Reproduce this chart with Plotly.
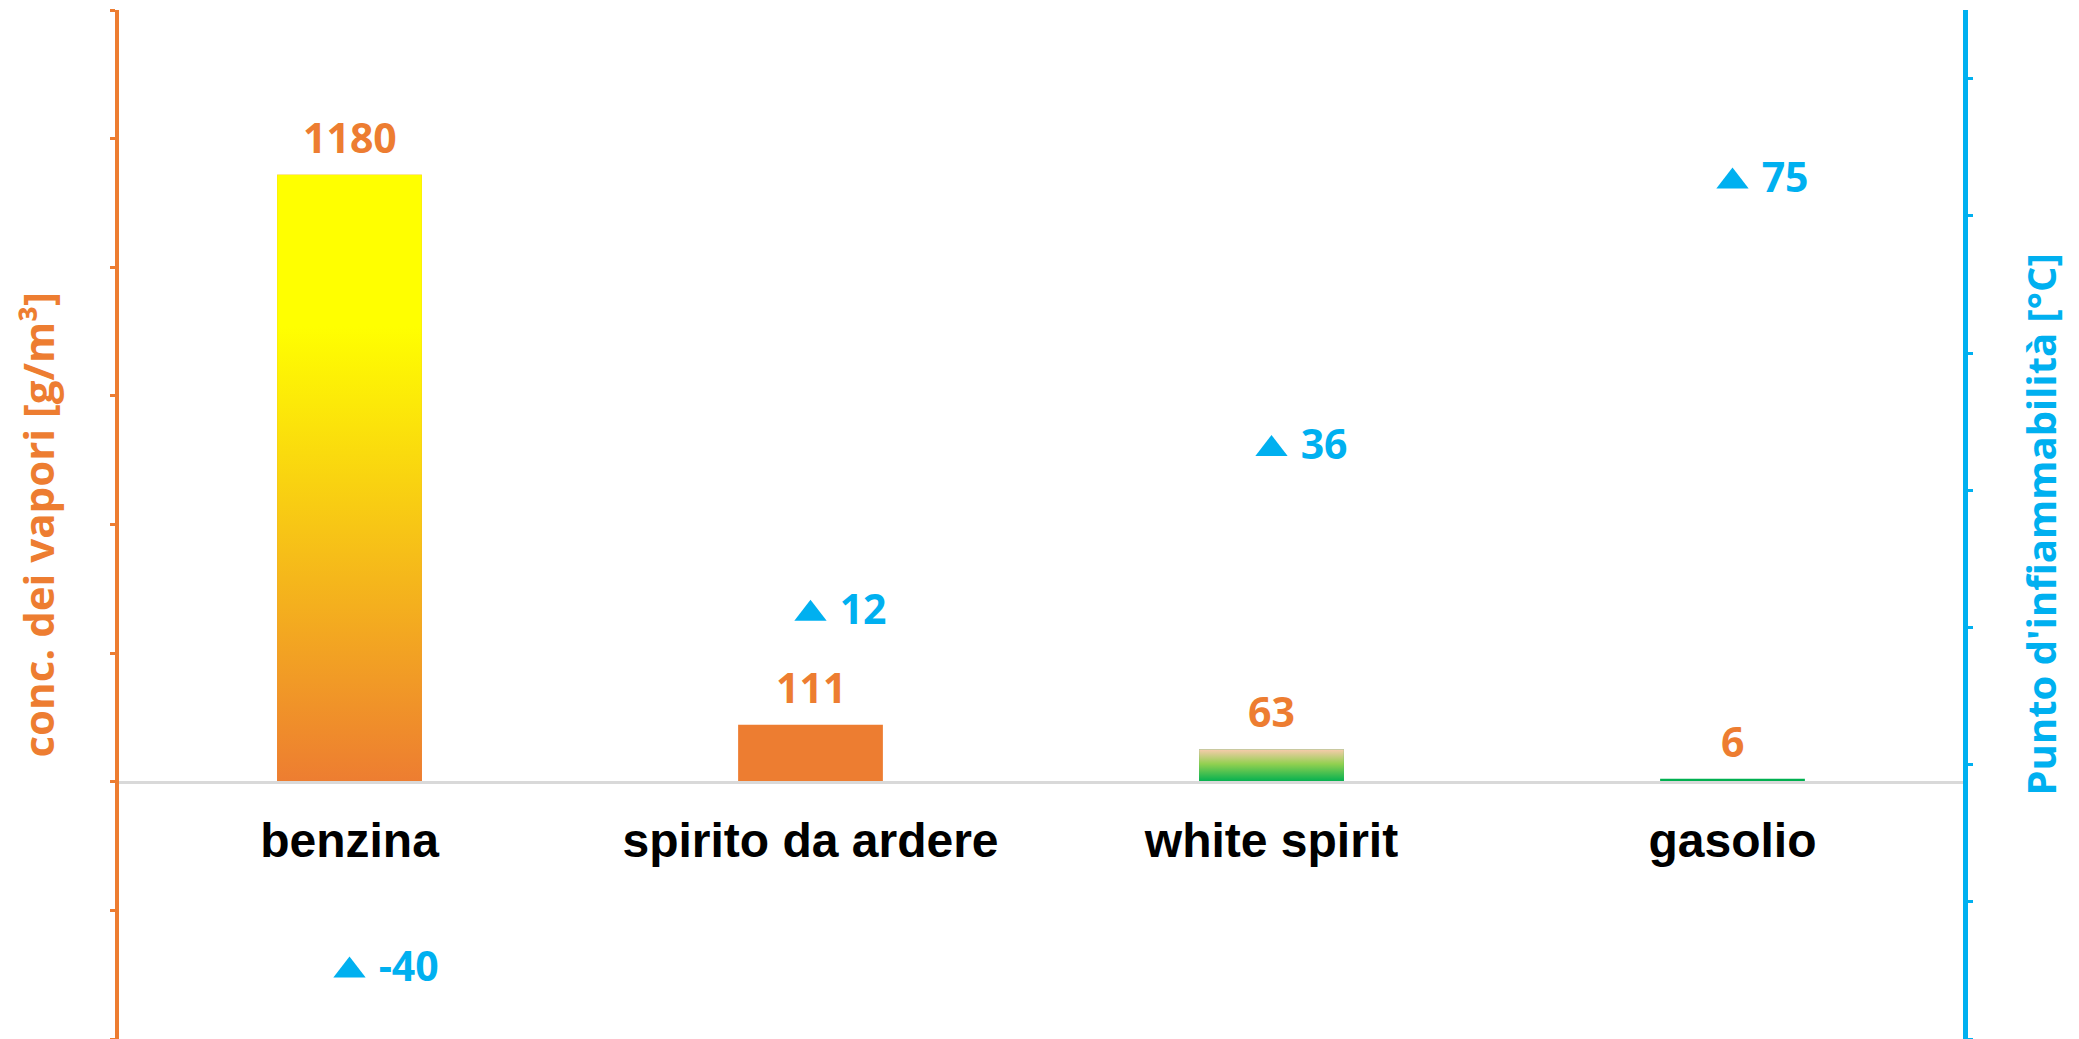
import plotly.graph_objects as go

categories = ["benzina", "spirito da ardere", "white spirit", "gasolio"]
vapour_conc = [1180, 111, 63, 6]          # g/m3 (left axis, bars)
flash_point = [-40, 12, 36, 75]           # °C (right axis, triangles)
bar_base_colors = ["#ED7D31", "#ED7D31", "#00B050", "#00B050"]
bar_gradients = {
    0: [[0, "#ED7D31"], [0.75, "#FFFF00"], [1, "#FFFF00"]],
    2: [[0, "#00B050"], [0.55, "#92D050"], [1, "#F8CBAD"]],
}

ORANGE = "#ED7D31"
BLUE = "#00B0F0"
NUM_FONT = "Open Sans"
BAR_W = 0.314

xs = list(range(len(categories)))

fig = go.Figure()

fig.add_trace(go.Bar(
    x=xs, y=vapour_conc, width=BAR_W,
    marker=dict(color=bar_base_colors, line=dict(width=0)),
    showlegend=False, hoverinfo="skip",
))

# gradient overlays for bars, built from the same values
for i, cs in bar_gradients.items():
    v = vapour_conc[i]
    fig.add_trace(go.Scatter(
        x=[i - BAR_W / 2, i + BAR_W / 2, i + BAR_W / 2, i - BAR_W / 2, i - BAR_W / 2],
        y=[0, 0, v, v, 0],
        mode="lines", line=dict(width=0), fill="toself",
        fillgradient=dict(type="vertical", colorscale=cs),
        showlegend=False, hoverinfo="skip",
    ))

fig.add_trace(go.Scatter(
    x=xs, y=flash_point, yaxis="y2",
    mode="markers+text",
    marker=dict(symbol="triangle-up", size=28, color=BLUE),
    text=["\u00a0" + str(v) for v in flash_point],
    textposition="middle right",
    textfont=dict(family=NUM_FONT, size=41, color=BLUE, weight="bold"),
    showlegend=False, cliponaxis=False,
))

annotations = []
for i, v in enumerate(vapour_conc):
    annotations.append(dict(
        x=i, y=v, xref="x", yref="y", text=str(v), showarrow=False,
        yanchor="middle", yshift=38,
        font=dict(family=NUM_FONT, size=41, color=ORANGE, weight="bold"),
    ))

annotations.append(dict(
    xref="paper", yref="paper", x=0, y=0.5, xshift=-82, xanchor="center", yanchor="middle",
    text="conc. dei vapori [g/m³]", textangle=-90, showarrow=False,
    font=dict(family=NUM_FONT, size=42, color=ORANGE, weight="bold"),
))
annotations.append(dict(
    xref="paper", yref="paper", x=1, y=0.5, xshift=77, xanchor="center", yanchor="middle",
    text="Punto d'infiammabilità [°C]", textangle=-90, showarrow=False,
    font=dict(family=NUM_FONT, size=40, color=BLUE, weight="bold"),
))

fig.update_layout(
    width=2079, height=1039,
    margin=dict(l=119, r=116, t=10, b=0),
    paper_bgcolor="white", plot_bgcolor="white",
    showlegend=False,
    annotations=annotations,
    xaxis=dict(
        range=[-0.5, 3.5], tickmode="array", tickvals=xs, ticktext=categories,
        anchor="free", position=0.25,
        showline=True, linecolor="#D9D9D9", linewidth=3,
        showgrid=False, zeroline=False, ticks="",
        ticklabelstandoff=16,
        tickfont=dict(family="Liberation Sans", size=48, color="black", weight="bold"),
    ),
    yaxis=dict(
        range=[-500, 1500], tick0=0, dtick=250,
        showline=True, linecolor=ORANGE, linewidth=4,
        ticks="outside", ticklen=5, tickwidth=3, tickcolor=ORANGE,
        showticklabels=False, showgrid=False, zeroline=False,
    ),
    yaxis2=dict(
        range=[-50, 100], tick0=-50, dtick=20, overlaying="y", side="right",
        showline=True, linecolor=BLUE, linewidth=5,
        ticks="outside", ticklen=5, tickwidth=3, tickcolor=BLUE,
        showticklabels=False, showgrid=False, zeroline=False,
    ),
)

fig.write_html("out.html", config={"displayModeBar": False},
               post_script="document.body.style.margin='0px';")
